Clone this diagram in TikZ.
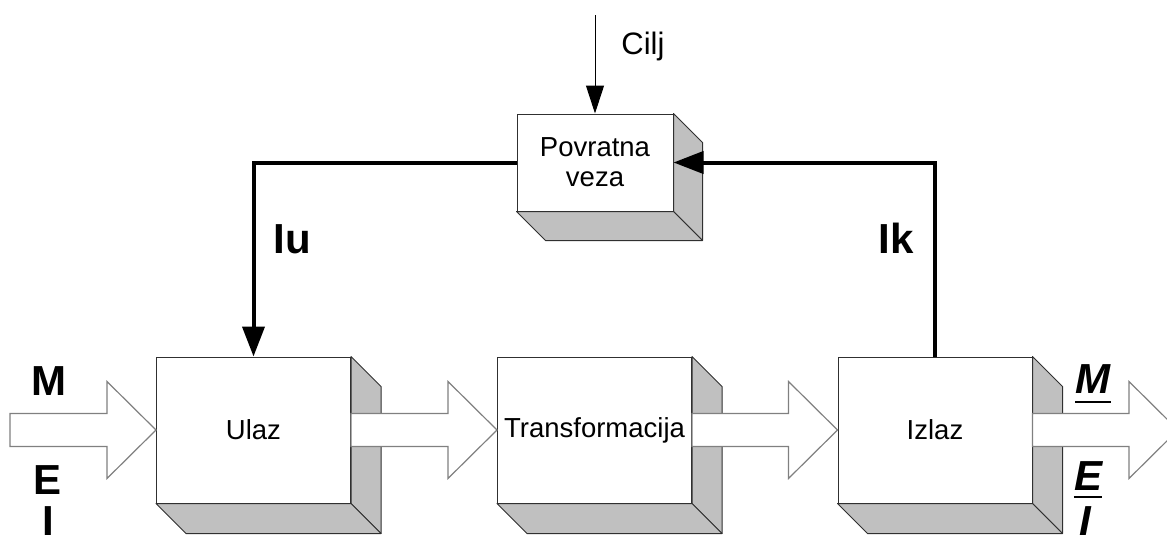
\documentclass[tikz,border=0pt]{standalone}
\usepackage{fontspec}
\setmainfont{Liberation Sans}
\usetikzlibrary{arrows.meta}

\definecolor{sidegray}{HTML}{C0C0C0}
\definecolor{boxline}{HTML}{303030}
\definecolor{arrowgray}{HTML}{808080}

\newcommand{\boxsides}[2]{%
  \filldraw[sideface] (#1.north east) -- ++(#2,#2) -- ([shift={(#2,#2)}]#1.south east) -- (#1.south east) -- cycle;
  \filldraw[sideface] (#1.south west) -- (#1.south east) -- ([shift={(#2,#2)}]#1.south east) -- ([shift={(#2,#2)}]#1.south west) -- cycle;
}
\newcommand{\flowarrow}[2]{%
  \filldraw[flowline] ([yshift=16.5pt]#1) -- ([xshift=-49pt,yshift=16.5pt]#2) -- ([xshift=-49pt,yshift=48.5pt]#2) -- (#2)
    -- ([xshift=-49pt,yshift=-48.5pt]#2) -- ([xshift=-49pt,yshift=-16.5pt]#2) -- ([yshift=-16.5pt]#1) -- cycle;
}

\begin{document}
\begin{tikzpicture}[x=1pt,y=-1pt,
    block/.style={draw=boxline,fill=white,line width=1pt,inner sep=0pt,align=center,
      minimum width=194pt,minimum height=146pt,font=\fontsize{27.5}{30}\selectfont},
    sideface/.style={fill=sidegray,draw=boxline,line width=1pt,line join=round},
    flowline/.style={fill=white,draw=arrowgray,line width=1.2pt},
    feedback/.style={line width=4pt,-{Triangle[length=30pt,width=22pt]}},
    goalline/.style={line width=1pt,-{Triangle[length=28pt,width=18pt]}},
    biglabel/.style={font=\fontsize{42}{48}\selectfont\bfseries,inner sep=0pt,anchor=base},
    outlabel/.style={font=\fontsize{42}{48}\selectfont\bfseries\itshape,inner sep=0pt,anchor=base}]
  \path[use as bounding box,clip] (0,0) rectangle (1167,544);

  \node[block] (ulaz) at (253.5,430) {Ulaz};
  \node[block] (transf) at (594.5,430) {Transformacija};
  \node[block] (izlaz) at (935,430) {Izlaz};
  \node[block,minimum width=156pt,minimum height=97pt] (povratna) at (595,162.5) {Povratna\\veza};
  \boxsides{ulaz}{30}
  \boxsides{transf}{30}
  \boxsides{izlaz}{30}
  \boxsides{povratna}{29}

  \coordinate (ulazin) at (10,430);
  \coordinate (izlazout) at (1178,430);
  \flowarrow{ulazin}{ulaz.west}
  \flowarrow{ulaz.east}{transf.west}
  \flowarrow{transf.east}{izlaz.west}
  \flowarrow{izlaz.east}{izlazout}

  \coordinate (ciljtop) at (595,15);
  \draw[goalline] (ciljtop) -- (povratna.north);
  \node[font=\fontsize{31}{34}\selectfont,inner sep=0pt,anchor=base] (cilj) at (643,54) {Cilj};

  \draw[feedback] (povratna.west) -| (ulaz.north);
  \draw[feedback] (izlaz.north) |- (povratna.east);
  \node[biglabel] (iu) at (292,253) {Iu};
  \node[biglabel] (ik) at (896,253) {Ik};

  \node[biglabel] (inm) at (49,395) {M};
  \node[biglabel] (ine) at (48,494) {E};
  \node[biglabel] (ini) at (48,535) {I};

  \node[outlabel] (outm) at (1093,393) {M};
  \node[outlabel] (oute) at (1088,490) {E};
  \node[outlabel] (outi) at (1085,535) {I};
  \draw[line width=2pt] ([yshift=-9pt]outm.base west) -- ([yshift=-9pt]outm.base east);
  \draw[line width=2pt] ([yshift=-7pt]oute.base west) -- ([yshift=-7pt]oute.base east);
\end{tikzpicture}
\end{document}
